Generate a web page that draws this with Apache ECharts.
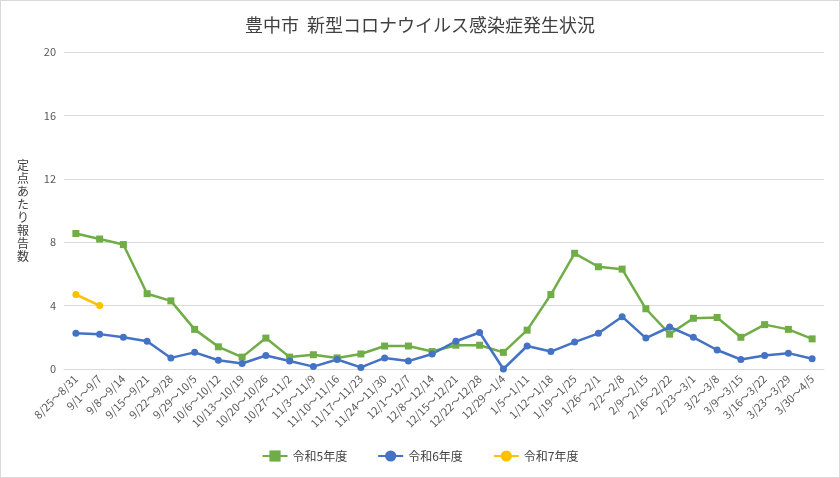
<!DOCTYPE html>
<html><head><meta charset="utf-8">
<script src="https://cdn.jsdelivr.net/npm/echarts@6/dist/echarts.min.js"></script>
<style>body{margin:0}#c{width:840px;height:478px;border:1px solid #d9d9d9;box-sizing:border-box}</style>
</head><body><div id="c"></div>
<script>
const categories=["8/25～8/31","9/1～9/7","9/8～9/14","9/15～9/21","9/22～9/28","9/29～10/5","10/6～10/12","10/13～10/19","10/20～10/26","10/27～11/2","11/3～11/9","11/10～11/16","11/17～11/23","11/24～11/30","12/1～12/7","12/8～12/14","12/15～12/21","12/22～12/28","12/29～1/4","1/5～1/11","1/12～1/18","1/19～1/25","1/26～2/1","2/2～2/8","2/9～2/15","2/16～2/22","2/23～3/1","3/2～3/8","3/9～3/15","3/16～3/22","3/23～3/29","3/30～4/5"];
const r5=[8.55,8.2,7.85,4.75,4.3,2.5,1.4,0.75,1.95,0.75,0.9,0.7,0.95,1.45,1.45,1.1,1.5,1.5,1.05,2.45,4.7,7.3,6.45,6.3,3.8,2.2,3.2,3.25,2.0,2.8,2.5,1.9];
const r6=[2.25,2.2,2.0,1.75,0.7,1.05,0.55,0.35,0.85,0.5,0.15,0.6,0.1,0.7,0.5,0.95,1.75,2.3,0.0,1.45,1.1,1.7,2.25,3.3,1.95,2.65,2.0,1.2,0.6,0.85,1.0,0.65];
const r7=[4.7,4.0];
const ch=echarts.init(document.getElementById('c'));
const f='"Noto Sans CJK JP", sans-serif';
ch.setOption({
 title:{text:'豊中市  新型コロナウイルス感染症発生状況',left:'center',top:10,textStyle:{fontFamily:f,fontSize:18,fontWeight:'normal',color:'#404040'}},
 legend:{bottom:10,itemGap:30,textStyle:{fontFamily:f,color:'#404040',fontSize:12},data:['令和5年度','令和6年度','令和7年度']},
 grid:{left:63,right:15,top:51,bottom:108},
 xAxis:{type:'category',data:categories,boundaryGap:true,axisTick:{show:false},axisLine:{lineStyle:{color:'#d9d9d9'}},
  axisLabel:{rotate:45,interval:0,fontFamily:f,fontSize:11,color:'#595959'}},
 yAxis:{type:'value',min:0,max:20,interval:4,axisLabel:{fontFamily:f,fontSize:11,color:'#595959'},splitLine:{lineStyle:{color:'#d9d9d9'}},
  name:'定\n点\nあ\nた\nり\n報\n告\n数',nameLocation:'middle',nameRotate:0,nameGap:35,nameTextStyle:{fontFamily:f,fontSize:12,color:'#404040',lineHeight:13}},
 series:[
  {name:'令和5年度',type:'line',data:r5,color:'#70ad47',symbol:'rect',symbolSize:7,lineStyle:{width:2.5}},
  {name:'令和6年度',type:'line',data:r6,color:'#4472c4',symbol:'circle',symbolSize:7,lineStyle:{width:2.5}},
  {name:'令和7年度',type:'line',data:r7,color:'#ffc000',symbol:'circle',symbolSize:7,lineStyle:{width:2.5}}
 ]
});
</script></body></html>
